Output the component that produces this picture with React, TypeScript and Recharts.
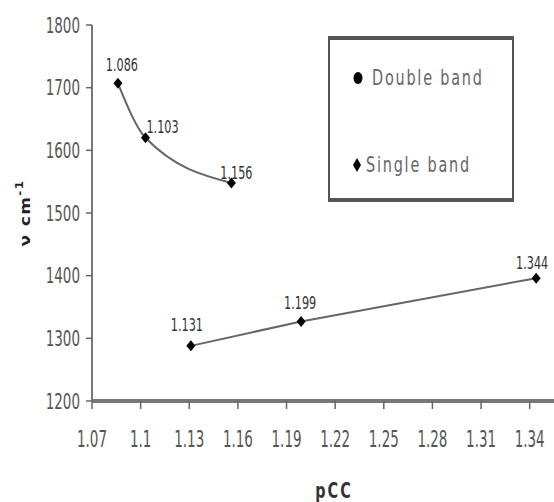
import { LineChart, Line, XAxis, YAxis, Legend, LabelList } from "recharts";

// pCC (x) against wavenumber (cm-1) for the two bond types
const doubleX = [1.086, 1.103, 1.156];
const doubleY = [1707, 1620, 1548];
const singleX = [1.131, 1.199, 1.344];
const singleY = [1288, 1327, 1396];

const xTicks = [1.07, 1.1, 1.13, 1.16, 1.19, 1.22, 1.25, 1.28, 1.31, 1.34];
const yTicks = [1200, 1300, 1400, 1500, 1600, 1700, 1800];
const seriesNames = ["Double band", "Single band"];

const doubleData = doubleX.map((x, i) => ({ x, v: doubleY[i] }));
const singleData = singleX.map((x, i) => ({ x, v: singleY[i] }));

const FONT = '"Liberation Sans Narrow", "DejaVu Sans Condensed", "Liberation Sans", sans-serif';
const TICK_COLOR = "#555";

// label nudges, per point (the labels in the source are not all centred)
const doubleShift = [
  [4, -19],
  [17, -11],
  [5, -10],
];
const singleShift = [
  [-4, -21],
  [-1, -19],
  [-4, -15],
];

const Diamond = (props: any) => {
  const { cx, cy } = props;
  if (cx == null || cy == null) return null;
  return (
    <path
      d={`M${cx},${cy - 5.5} L${cx + 4.5},${cy} L${cx},${cy + 5.5} L${cx - 4.5},${cy} Z`}
      fill="#000"
    />
  );
};

const YTick = (props: any) => {
  const { x, y, payload } = props;
  return (
    <text
      transform={`translate(${x - 4},${y}) scale(1,1.45)`}
      textAnchor="end"
      dominantBaseline="central"
      fontFamily={FONT}
      fontSize={15}
      fill={TICK_COLOR}
    >
      {payload.value}
    </text>
  );
};

const XTick = (props: any) => {
  const { x, y, payload } = props;
  return (
    <text
      transform={`translate(${x},${y + 28}) scale(1,1.5)`}
      textAnchor="middle"
      dominantBaseline="central"
      fontFamily={FONT}
      fontSize={15}
      fill={TICK_COLOR}
    >
      {payload.value}
    </text>
  );
};

const pointLabel = (shift: number[][]) => (props: any) => {
  const { x, y, value, index } = props;
  const [dx, dy] = shift[index] || [0, -18];
  return (
    <text
      transform={`translate(${x + dx},${y + dy}) scale(1,1.35)`}
      textAnchor="middle"
      dominantBaseline="central"
      fontFamily={FONT}
      fontSize={12.5}
      fill="#333"
    >
      {value}
    </text>
  );
};

const YLabel = (props: any) => {
  const { viewBox } = props;
  const cy = viewBox.y + viewBox.height / 2;
  return (
    <text
      transform={`translate(${25},${cy}) rotate(-90) scale(1.35,1)`}
      textAnchor="middle"
      dominantBaseline="central"
      fontFamily={FONT}
      fontSize={14}
      fontWeight="bold"
      fill="#222"
      letterSpacing={1}
    >
      ν cm
      <tspan dy={-5} fontSize={10}>
        -1
      </tspan>
    </text>
  );
};

const XLabel = (props: any) => {
  const { viewBox } = props;
  const cx = viewBox.x + viewBox.width / 2 + 11;
  return (
    <text
      transform={`translate(${cx},${490}) scale(1,1.35)`}
      textAnchor="middle"
      dominantBaseline="central"
      fontFamily={FONT}
      fontSize={16}
      fontWeight="bold"
      fill="#333"
      letterSpacing={2}
    >
      pCC
    </text>
  );
};

const LegendBox = () => (
  <div
    style={{
      width: 182,
      height: 158,
      border: "2px solid #555",
      borderTopWidth: 4,
      borderBottomWidth: 4,
      background: "#fff",
      position: "relative",
      fontFamily: FONT,
      color: "#666",
    }}
  >
    {seriesNames.map((name, i) => (
      <div
        key={name}
        style={{
          position: "absolute",
          left: i === 0 ? 22 : 21,
          top: i === 0 ? 28 : 115,
          display: "flex",
          alignItems: "center",
          whiteSpace: "nowrap",
        }}
      >
        <svg width={12} height={16} style={{ marginRight: i === 0 ? 8 : 3 }}>
          {i === 0 ? (
            <ellipse cx={6} cy={8} rx={4.5} ry={6} fill="#000" />
          ) : (
            <path d="M6,1 L10,8 L6,15 L2,8 Z" fill="#000" />
          )}
        </svg>
        <span
          style={{
            display: "inline-block",
            fontSize: 16,
            letterSpacing: 1.8,
            transform: "scaleY(1.35)",
          }}
        >
          {name}
        </span>
      </div>
    ))}
  </div>
);

export default function App() {
  return (
    <div style={{ position: "absolute", left: 0, top: 0 }}>
      <LineChart
        width={554}
        height={502}
        margin={{ top: 25, right: 0, left: 0, bottom: 0 }}
      >
        <XAxis
          type="number"
          dataKey="x"
          domain={[1.07, 1.355]}
          ticks={xTicks}
          allowDataOverflow
          height={101}
          tick={<XTick />}
          tickSize={8}
          tickLine={{ stroke: "#666", strokeWidth: 1.5 }}
          axisLine={{ stroke: "#777", strokeWidth: 4 }}
          label={<XLabel />}
        />
        <YAxis
          type="number"
          dataKey="v"
          domain={[1200, 1800]}
          ticks={yTicks}
          width={92}
          tick={<YTick />}
          tickSize={6}
          tickLine={{ stroke: "#666", strokeWidth: 1.5 }}
          axisLine={{ stroke: "#777", strokeWidth: 2 }}
          label={<YLabel />}
        />
        <Legend
          layout="vertical"
          align="center"
          verticalAlign="middle"
          wrapperStyle={{ left: 328, top: 36, width: 186, height: 166 }}
          content={() => <LegendBox />}
        />
        <Line
          data={doubleData}
          dataKey="v"
          name={seriesNames[0]}
          type="monotone"
          stroke="#666"
          strokeWidth={2}
          dot={<Diamond />}
          activeDot={false}
          isAnimationActive={false}
        >
          <LabelList dataKey="x" content={pointLabel(doubleShift)} />
        </Line>
        <Line
          data={singleData}
          dataKey="v"
          name={seriesNames[1]}
          type="linear"
          stroke="#666"
          strokeWidth={2}
          dot={<Diamond />}
          activeDot={false}
          isAnimationActive={false}
        >
          <LabelList dataKey="x" content={pointLabel(singleShift)} />
        </Line>
      </LineChart>
    </div>
  );
}
